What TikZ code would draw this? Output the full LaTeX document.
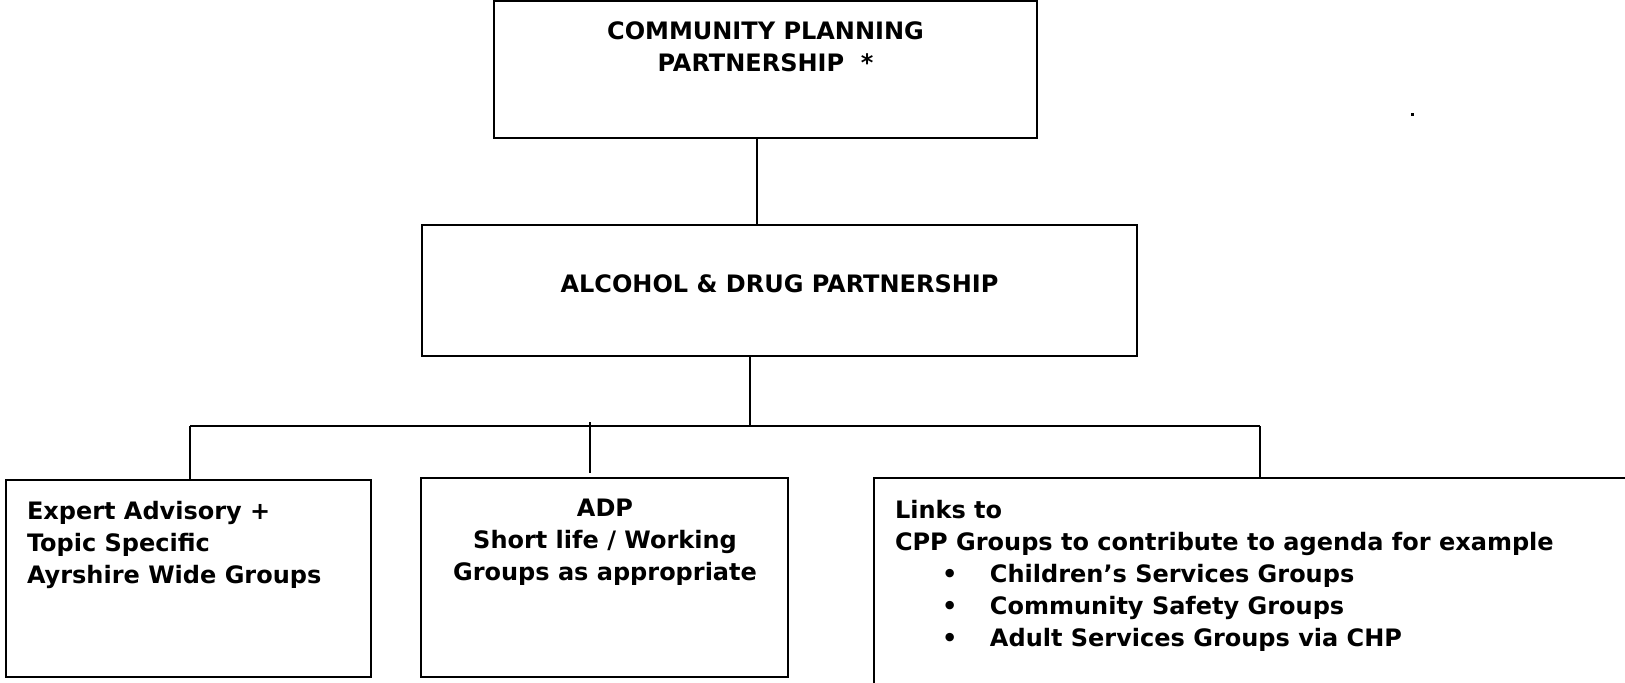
\documentclass[tikz,border=0pt]{standalone}
\usepackage{fontspec}
\setmainfont{DejaVu Sans}
\usetikzlibrary{positioning}

\begin{document}
\begin{tikzpicture}[
        x=0.5pt, y=-0.5pt,
        line width=1pt,
        every node/.style={font=\fontsize{12pt}{16pt}\selectfont\bfseries, inner sep=0pt},
        box/.style={draw, line width=1pt, inner sep=0pt},
        txt/.style={align=left},
    ]
        \useasboundingbox (0,0) rectangle (1625,682);
        \clip (0,0) rectangle (1625,682);

        % --- Boxes ---
        \node[box, minimum width=271.5pt, minimum height=68.5pt] (cpp)       at (765.5,69.5)  {};
        \node[box, minimum width=357.5pt, minimum height=65.5pt] (adp)       at (779.5,290.5) {};
        \node[box, minimum width=182.5pt, minimum height=98.5pt] (expert)    at (188.5,578.5) {};
        \node[box, minimum width=183.5pt, minimum height=99.5pt] (shortlife) at (604.5,577.5) {};
        \node[box, minimum width=413pt,   minimum height=141pt]  (links)     at (1287,619)    {};

        % --- Texts ---
        \node[align=center, anchor=north] (cpptext) at (765.5,21)
            {COMMUNITY PLANNING\\PARTNERSHIP\ \ *};
        \node (adptext) at (779.5,284) {ALCOHOL \& DRUG PARTNERSHIP};
        \node[txt, anchor=north west] (experttext) at (26,500)
            {Expert Advisory +\\Topic Specific\\Ayrshire Wide Groups};
        \node[align=center, anchor=north] (shortlifetext) at (605,498)
            {ADP\\Short life / Working\\Groups as appropriate};
        \node[txt, anchor=north west] (linkstext) at (894,499)
            {Links to\\
             CPP Groups to contribute to agenda for example\\
             \hspace*{23.5pt}\makebox[24pt][l]{\textbullet}Children’s Services Groups\\
             \hspace*{23.5pt}\makebox[24pt][l]{\textbullet}Community Safety Groups\\
             \hspace*{23.5pt}\makebox[24pt][l]{\textbullet}Adult Services Groups via CHP};

        % --- Lines ---
        \coordinate (bus)  at (750,426);
        \coordinate (busL) at (190,426);
        \coordinate (busR) at (1260,426);
        \coordinate (stub) at (590,422);
        \draw ([xshift=-4.25pt]cpp.south) -- ([xshift=-4.25pt]cpp.south |- adp.north);
        \draw (adp.south -| bus) -- (bus);
        \draw (busL) -- (busR);
        \draw (busL) -- (busL |- expert.north);
        \draw (busR) -- (busR |- links.north);
        \draw[shorten >=2pt] (stub) -- (stub |- shortlife.north);

        % stray dot
        \fill (1411,113) rectangle (1414,116);
    \end{tikzpicture}
\end{document}
